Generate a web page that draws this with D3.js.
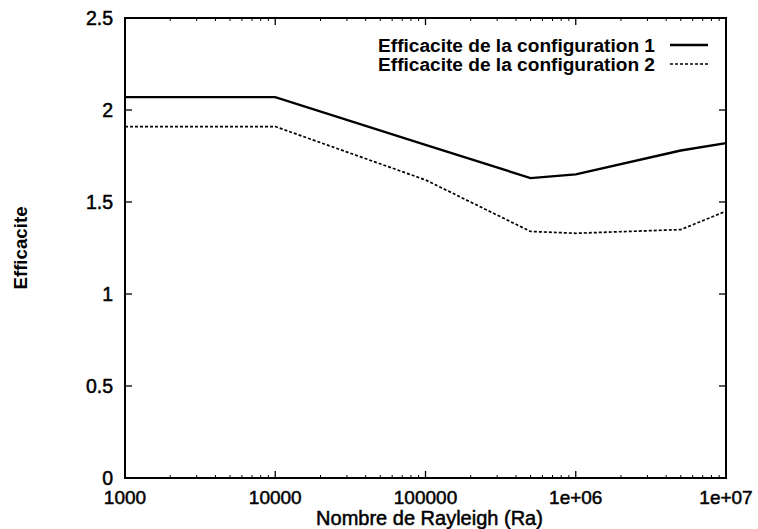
<!DOCTYPE html>
<html>
<head>
<meta charset="utf-8">
<script src="https://cdn.jsdelivr.net/npm/d3@7"></script>
<style>
  body { margin: 0; background: #fff; }
  svg { display: block; font-family: "Liberation Sans", Arial, sans-serif; }
</style>
</head>
<body>
<div id="chart"></div>
<script>
// données
const rayleigh = [1e3, 1e4, 1e5, 5e5, 1e6, 5e6, 1e7];
const config1 = [2.07, 2.07, 1.81, 1.63, 1.65, 1.78, 1.82];
const config2 = [1.91, 1.91, 1.62, 1.34, 1.33, 1.35, 1.45];
const seriesNames = ["Efficacite de la configuration 1", "Efficacite de la configuration 2"];
const xTicks = [1e3, 1e4, 1e5, 1e6, 1e7];
const xTickLabels = ["1000", "10000", "100000", "1e+06", "1e+07"];
const yTicks = [0, 0.5, 1, 1.5, 2, 2.5];

const W = 758, H = 529;
const m = { left: 125, right: 32, top: 18, bottom: 51 };

const svg = d3.select("#chart").append("svg").attr("width", W).attr("height", H);

const x = d3.scaleLog().domain([1e3, 1e7]).range([m.left, W - m.right]);
const y = d3.scaleLinear().domain([0, 2.5]).range([H - m.bottom, m.top]);

const g = svg.append("g");

// graduations mineures (log) haut et bas
const minor = [];
for (let d = 1e3; d < 1e7; d *= 10) {
  for (let k = 2; k <= 9; k++) minor.push(d * k);
}
g.selectAll(".minor")
  .data(minor)
  .join("g")
  .each(function (v) {
    const s = d3.select(this);
    s.append("line").attr("x1", x(v)).attr("x2", x(v))
      .attr("y1", y(0)).attr("y2", y(0) - 3).attr("stroke", "#000");
    s.append("line").attr("x1", x(v)).attr("x2", x(v))
      .attr("y1", y(2.5)).attr("y2", y(2.5) + 3).attr("stroke", "#000");
  });

// graduations majeures x
g.selectAll(".xmaj")
  .data(xTicks)
  .join("g")
  .each(function (v) {
    const s = d3.select(this);
    s.append("line").attr("x1", x(v)).attr("x2", x(v))
      .attr("y1", y(0)).attr("y2", y(0) - 7).attr("stroke", "#000").attr("stroke-width", 1.3);
    s.append("line").attr("x1", x(v)).attr("x2", x(v))
      .attr("y1", y(2.5)).attr("y2", y(2.5) + 7).attr("stroke", "#000").attr("stroke-width", 1.3);
  });

// texte un peu épaissi, comme sur la figure scannée
const thick = (sel) => sel.attr("stroke", "#000").attr("stroke-width", 0.5);

g.selectAll(".xlab")
  .data(xTicks)
  .join("text")
  .attr("x", (d) => x(d))
  .attr("y", y(0) + 26)
  .attr("text-anchor", "middle")
  .attr("font-size", "19px")
  .call(thick)
  .text((d, i) => xTickLabels[i]);

// graduations y (gauche et droite)
g.selectAll(".ymaj")
  .data(yTicks)
  .join("g")
  .each(function (v) {
    const s = d3.select(this);
    s.append("line").attr("x1", x(1e3)).attr("x2", x(1e3) + 7)
      .attr("y1", y(v)).attr("y2", y(v)).attr("stroke", "#000").attr("stroke-width", 1.3);
    s.append("line").attr("x1", x(1e7)).attr("x2", x(1e7) - 7)
      .attr("y1", y(v)).attr("y2", y(v)).attr("stroke", "#000").attr("stroke-width", 1.3);
  });

g.selectAll(".ylab")
  .data(yTicks)
  .join("text")
  .attr("x", m.left - 12)
  .attr("y", (d) => y(d) + 7)
  .attr("text-anchor", "end")
  .attr("font-size", "19.5px")
  .call(thick)
  .text((d) => d);

// cadre
g.append("rect")
  .attr("x", x(1e3)).attr("y", y(2.5))
  .attr("width", x(1e7) - x(1e3)).attr("height", y(0) - y(2.5))
  .attr("fill", "none").attr("stroke", "#000").attr("stroke-width", 2);

// courbes
const line = d3.line().x((d) => x(d[0])).y((d) => y(d[1]));
const styles = [
  { width: 2.4, dash: null },
  { width: 1.7, dash: "3,2" }
];
[config1, config2].forEach((vals, i) => {
  g.append("path")
    .datum(rayleigh.map((r, j) => [r, vals[j]]))
    .attr("d", line)
    .attr("fill", "none")
    .attr("stroke", "#000")
    .attr("stroke-width", styles[i].width)
    .attr("stroke-dasharray", styles[i].dash);
});

// légende
const leg = g.append("g");
seriesNames.forEach((name, i) => {
  const ly = 45 + i * 19;
  leg.append("text")
    .attr("x", 655).attr("y", ly + 7)
    .attr("text-anchor", "end")
    .attr("font-size", "19.1px")
    .attr("font-weight", "bold")
    .text(name);
  leg.append("line")
    .attr("x1", 670).attr("x2", 708)
    .attr("y1", ly).attr("y2", ly)
    .attr("stroke", "#000")
    .attr("stroke-width", styles[i].width)
    .attr("stroke-dasharray", styles[i].dash);
});

// titres des axes
svg.append("text")
  .attr("x", (x(1e3) + x(1e7)) / 2 + 4)
  .attr("y", 525)
  .attr("text-anchor", "middle")
  .attr("font-size", "20px")
  .call(thick)
  .text("Nombre de Rayleigh (Ra)");

svg.append("text")
  .attr("transform", `translate(27,${(y(0) + y(2.5)) / 2}) rotate(-90)`)
  .attr("text-anchor", "middle")
  .attr("font-size", "18.7px")
  .attr("font-weight", "bold")
  .text("Efficacite");
</script>
</body>
</html>
